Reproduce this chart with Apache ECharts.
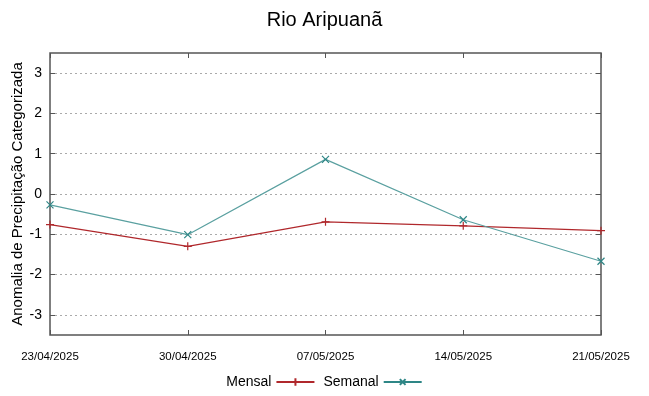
<!DOCTYPE html>
<html><head><meta charset="utf-8">
<script src="https://cdn.jsdelivr.net/npm/echarts@6/dist/echarts.min.js"></script>
<style>html,body{margin:0;padding:0;background:#fff}#c{width:649px;height:396px}</style>
</head><body><div id="c"></div>
<script>
const categories = ['23/04/2025','30/04/2025','07/05/2025','14/05/2025','21/05/2025'];
const mensal = [-0.76, -1.30, -0.69, -0.79, -0.91];
const semanal = [-0.27, -1.01, 0.86, -0.64, -1.67];
const yTicks = [-3,-2,-1,0,1,2,3];

const plus = 'path://M0,5L10,5M5,0L5,10';
const cross = 'path://M0,0L10,10M10,0L0,10';
const legPlus = 'path://M0,5L40,5M20,1L20,9';
const legCross = 'path://M0,5L40,5M17,2L23,8M23,2L17,8';
const font = 'Liberation Sans, Arial, sans-serif';
const red = '#b0282c', teal = '#2e8686';

const chart = echarts.init(document.getElementById('c'));
chart.setOption({
  animation:false,
  title:{text:'Rio Aripuanã',left:'center',top:5,textStyle:{fontFamily:font,fontSize:20,fontWeight:'normal',color:'#000'}},
  grid:{left:50,right:48,top:53,bottom:61,show:true,borderColor:'#555',borderWidth:1.5,outerBoundsMode:'none',containLabel:false},
  legend:{bottom:2,left:'center',align:'right',itemWidth:38,itemHeight:10,itemGap:8,
    textStyle:{fontFamily:font,fontSize:14,color:'#000'},
    data:[{name:'Mensal',icon:legPlus},{name:'Semanal',icon:legCross}],
    itemStyle:{color:'transparent'}},
  xAxis:[{type:'category',data:categories,boundaryGap:false,
    axisLine:{show:false,onZero:false},axisTick:{show:true,inside:true,length:5,lineStyle:{color:'#555'}},
    splitLine:{show:false},
    axisLabel:{fontFamily:font,fontSize:11.5,color:'#000',margin:16,interval:0,showMinLabel:true,showMaxLabel:true}},
   {type:'category',data:categories,boundaryGap:false,position:'top',
    axisLine:{show:false,onZero:false},axisTick:{show:true,inside:true,length:5,lineStyle:{color:'#555'}},
    axisLabel:{show:false},splitLine:{show:false}}],
  yAxis:[{type:'value',min:-3.5,max:3.5,interval:1,
    axisLine:{show:false,onZero:false},axisTick:{show:true,inside:true,length:5,lineStyle:{color:'#555'},customValues:yTicks},
    axisLabel:{fontFamily:font,fontSize:14,color:'#000',margin:8,customValues:yTicks},
    splitLine:{show:true,lineStyle:{type:[2,3],color:'#aaa',width:1}},
    name:'Anomalia de Precipitação Categorizada',nameLocation:'middle',nameGap:25,nameMoveOverlap:false,
    nameTextStyle:{fontFamily:font,fontSize:15,color:'#000'}},
   {type:'value',min:-3.5,max:3.5,interval:1,position:'right',
    axisLine:{show:false,onZero:false},axisTick:{show:true,inside:true,length:5,lineStyle:{color:'#555'},customValues:yTicks},
    axisLabel:{show:false},splitLine:{show:false}}],
  series:[
    {name:'Mensal',type:'line',data:mensal,symbol:plus,symbolSize:8,showAllSymbol:true,
     color:red,lineStyle:{color:red,width:1.2},itemStyle:{color:'transparent',borderColor:red,borderWidth:1.2}},
    {name:'Semanal',type:'line',data:semanal,symbol:cross,symbolSize:7,showAllSymbol:true,
     color:teal,lineStyle:{color:'#5aa0a0',width:1.2},itemStyle:{color:'transparent',borderColor:teal,borderWidth:1.2}}
  ]
});
</script></body></html>
